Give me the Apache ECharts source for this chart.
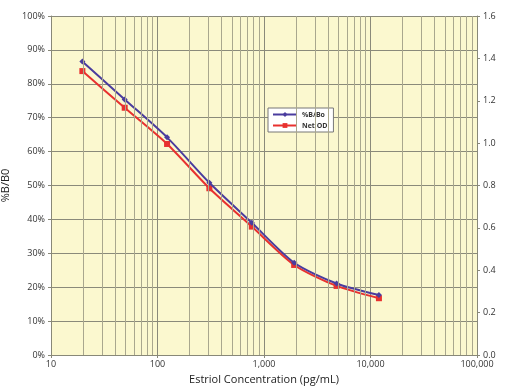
<!DOCTYPE html>
<html>
<head>
<meta charset="utf-8">
<script src="https://cdn.jsdelivr.net/npm/echarts@6/dist/echarts.min.js"></script>
<style>
  html, body { margin: 0; padding: 0; background: #ffffff; }
  #chart { width: 507px; height: 390px; }
</style>
</head>
<body>
<div id="chart"></div>
<script>
// ---- data ----
const concentrations = [19.7, 49.2, 123, 307, 768, 1920, 4800, 12000];
const pctBB0 = [86.6, 75.4, 64.2, 50.8, 39.0, 27.2, 21.1, 17.7];
const netOD = [1.340, 1.167, 0.996, 0.787, 0.606, 0.425, 0.326, 0.268];
const seriesNames = ['%B/Bo', 'Net OD'];
const minorGridX = [20, 30, 40, 50, 60, 70, 80, 90,
                    200, 300, 400, 500, 600, 700, 800, 900,
                    2000, 3000, 4000, 5000, 6000, 7000, 8000, 9000,
                    20000, 30000, 40000, 50000, 60000, 70000, 80000, 90000];

const FONT = '"Open Sans", "DejaVu Sans", sans-serif';
const chart = echarts.init(document.getElementById('chart'), null, { renderer: 'canvas' });

chart.setOption({
  animation: false,
  backgroundColor: '#ffffff',
  grid: {
    left: 51, right: 30, top: 16, bottom: 35,
    containLabel: false, outerBoundsMode: 'none',
    show: true, backgroundColor: '#fbf8cf', borderWidth: 0
  },
  legend: {
    orient: 'vertical',
    left: 268, top: 108,
    backgroundColor: '#ffffff',
    borderColor: '#777777', borderWidth: 1,
    padding: [3, 6, 3, 4],
    itemGap: 4,
    itemWidth: 24, itemHeight: 6,
    textStyle: { fontFamily: FONT, fontSize: 7, fontWeight: 'bold', color: '#333' },
    data: seriesNames
  },
  xAxis: {
    type: 'log', logBase: 10, min: 10, max: 100000,
    name: 'Estriol Concentration (pg/mL)',
    nameLocation: 'middle', nameGap: 19,
    nameTextStyle: { fontFamily: FONT, fontSize: 11, color: '#222' },
    axisLine: { show: true, lineStyle: { color: '#888878', width: 1 } },
    axisTick: { show: true, length: 3, lineStyle: { color: '#888878' } },
    axisLabel: {
      fontFamily: FONT, fontSize: 9, color: '#333', margin: 5,
      formatter: v => Number(v).toLocaleString('en-US')
    },
    splitLine: { show: true, lineStyle: { color: '#8a8a7a', width: 1 } }
  },
  yAxis: [
    {
      type: 'value', min: 0, max: 100, interval: 10, position: 'left',
      name: '%B/B0', nameLocation: 'middle', nameGap: 36,
      nameTextStyle: { fontFamily: FONT, fontSize: 11, color: '#222' },
      axisLine: { show: true, lineStyle: { color: '#888878' } },
      axisTick: { show: true, length: 3, lineStyle: { color: '#888878' } },
      axisLabel: { fontFamily: FONT, fontSize: 9, color: '#333', margin: 6, formatter: '{value}%' },
      splitLine: { show: true, lineStyle: { color: '#8a8a7a', width: 1 } }
    },
    {
      type: 'value', min: 0, max: 1.6, interval: 0.2, position: 'right',
      axisLine: { show: true, lineStyle: { color: '#888878' } },
      axisTick: { show: true, length: 3, lineStyle: { color: '#888878' } },
      axisLabel: { fontFamily: FONT, fontSize: 9, color: '#333', margin: 6, formatter: v => v.toFixed(1) },
      splitLine: { show: false }
    }
  ],
  series: [
    {
      name: 'minor-grid', type: 'line', data: [], z: 1, silent: true,
      markLine: {
        silent: true, symbol: ['none', 'none'], animation: false,
        label: { show: false },
        lineStyle: { color: '#a9a78e', width: 1, type: 'solid' },
        data: minorGridX.map(v => ({ xAxis: v }))
      }
    },
    {
      name: seriesNames[1], type: 'line', yAxisIndex: 1, z: 3,
      data: concentrations.map((c, i) => [c, netOD[i]]),
      smooth: 0.25,
      symbol: 'rect', symbolSize: 6,
      lineStyle: { color: '#e8312f', width: 2 },
      itemStyle: { color: '#e8312f' }
    },
    {
      name: seriesNames[0], type: 'line', yAxisIndex: 0, z: 4,
      data: concentrations.map((c, i) => [c, pctBB0[i]]),
      smooth: 0.25,
      symbol: 'diamond', symbolSize: 6,
      lineStyle: { color: '#4a3c9e', width: 2 },
      itemStyle: { color: '#4a3c9e' }
    }
  ]
});
</script>
</body>
</html>
